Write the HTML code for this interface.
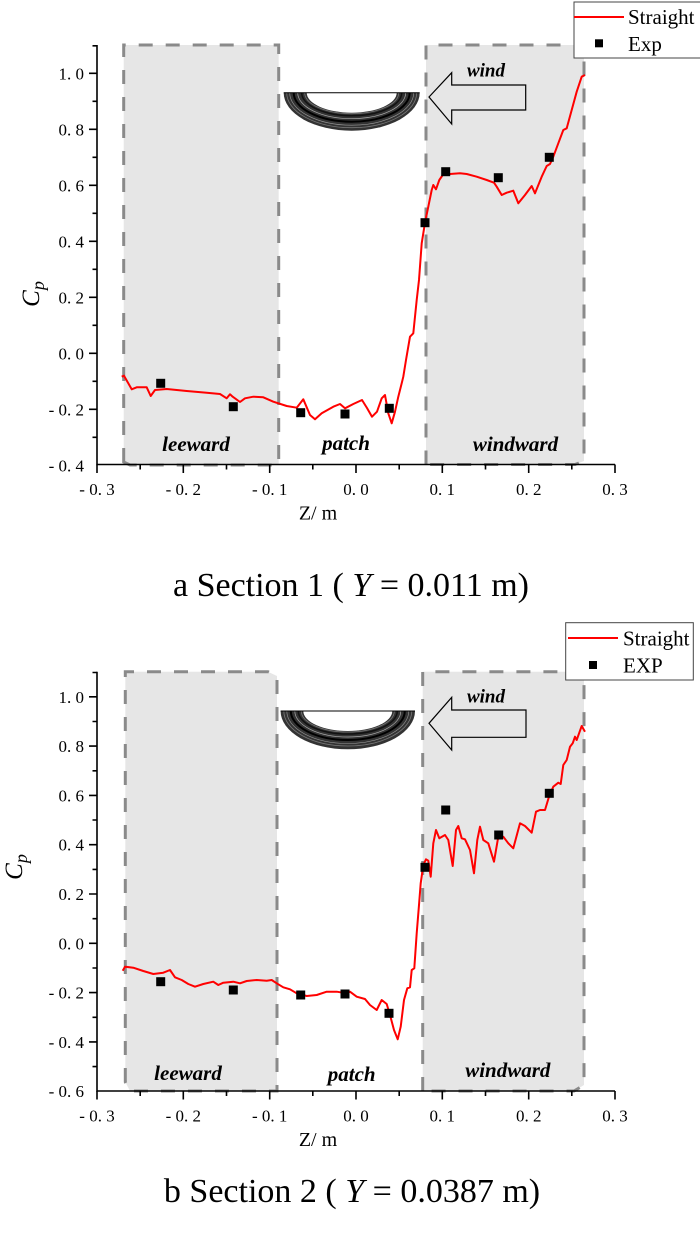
<!DOCTYPE html>
<html><head><meta charset="utf-8"><style>
html,body{margin:0;padding:0;background:#fff;}
svg{display:block;}
text{font-family:"Liberation Serif","Times New Roman",serif;fill:#000;}
</style></head><body>
<svg width="700" height="1233" viewBox="0 0 700 1233" xmlns="http://www.w3.org/2000/svg">
<rect x="0" y="0" width="700" height="1233" fill="#fff"/>

<!-- ================= CHART 1 ================= -->
<g fill="#e6e6e6" stroke="#8a8a8a" stroke-width="3" stroke-dasharray="14 13">
  <path d="M123.7,462 L123.7,45 L278.7,45 L278.7,465 L130,465 Z"/>
  <path d="M426,464.5 L426,45 L584,45 L584,461 L575,464.5 Z"/>
</g>

<!-- tire 1 -->
<g transform="translate(351.7,92.7)">
  <path d="M-68,0 A68,38 0 0,0 68,0 Z" fill="#333"/>
  <path d="M-65,0 A65,35 0 0,0 65,0" fill="none" stroke="#777" stroke-width="0.8"/>
  <path d="M-62,0 A62,32.5 0 0,0 62,0" fill="none" stroke="#999" stroke-width="0.6"/>
  <path d="M-58,0 A58,29 0 0,0 58,0" fill="none" stroke="#000" stroke-width="2"/>
  <path d="M-54,0 A54,26 0 0,0 54,0" fill="none" stroke="#aaa" stroke-width="0.7"/>
  <path d="M-50,0 A50,23 0 0,0 50,0" fill="none" stroke="#111" stroke-width="1.5"/>
  <path d="M-47,0 A47,21 0 0,0 47,0" fill="none" stroke="#777" stroke-width="0.8"/>
  <path d="M-45,0 A45,20 0 0,0 45,0 Z" fill="#fff"/>
  <line x1="-68" y1="0" x2="68" y2="0" stroke="#000" stroke-width="1"/>
</g>

<!-- wind arrow 1 -->
<path d="M429,97 L451.7,72.7 L451.7,85 L525.7,85 L525.7,110 L451.7,110 L451.7,124 Z" fill="none" stroke="#000" stroke-width="1.2"/>
<text x="486" y="76.7" font-size="19" font-weight="bold" font-style="italic" text-anchor="middle">wind</text>

<text x="196" y="451" font-size="21" font-weight="bold" font-style="italic" text-anchor="middle">leeward</text>
<text x="346" y="450" font-size="21" font-weight="bold" font-style="italic" text-anchor="middle">patch</text>
<text x="515.5" y="451" font-size="21" font-weight="bold" font-style="italic" text-anchor="middle">windward</text>

<!-- curve 1 -->
<polyline fill="none" stroke="#ff0000" stroke-width="2" stroke-linejoin="round" points="121.7,376.7 124,375.7 131.7,389.3 136.7,387.3 146.7,387.3 150.7,396 155,390 166.7,389 186.7,391 206.7,392.7 220,394 226.7,398.3 230,394.3 232.7,396.7 240,402 245,398.3 253.3,396.7 263.3,397.3 273.3,401.7 286.7,406 296.7,407.7 303.3,399.3 310,415 315,419.3 321.7,413.3 333.3,406.7 340,404 345,408.3 353.3,404 362,400 367,408 372,416.7 377,411.7 381.7,398.3 385,395 388.3,413.3 391.7,423.3 395,411.7 398.3,396.7 401.7,383.3 403.3,376.7 406,360 410,336.7 413.3,333.3 416.7,300 419,280 421.7,243.3 425,222.7 428.3,206.7 431.7,190 433.3,185 436,189.3 439.3,180 445,171.7 450,174 460,173.3 466.7,174 476.7,176.7 486.7,180 494,182.7 496.7,186.7 501.7,195 506.7,192.7 513.3,190.7 518.3,203.3 525,195 531.7,186 535,193.3 541.7,176.7 546.7,166 550,164 553.3,156.7 558.3,143.3 563.3,130 566.7,128.3 571.7,110 576.7,91.7 581.7,76.7 585,75"/>

<!-- markers 1 -->
<g fill="#000">
  <rect x="156.2" y="378.8" width="9" height="9"/>
  <rect x="228.8" y="402.2" width="9" height="9"/>
  <rect x="296.2" y="408.2" width="9" height="9"/>
  <rect x="340.5" y="409.5" width="9" height="9"/>
  <rect x="384.8" y="403.8" width="9" height="9"/>
  <rect x="420.5" y="218.2" width="9" height="9"/>
  <rect x="441.2" y="167.2" width="9" height="9"/>
  <rect x="493.8" y="173.2" width="9" height="9"/>
  <rect x="544.8" y="152.8" width="9" height="9"/>
</g>

<!-- axes 1 -->
<g stroke="#000" stroke-width="1.6" fill="none">
  <path d="M97,45 L97,465.3 M96.2,464.5 L615,464.5"/>
  <path d="M97,73.3h-8 M97,129.3h-8 M97,185.3h-8 M97,241.3h-8 M97,297.3h-8 M97,353.3h-8 M97,409.3h-8"/>
  <path d="M97,45.8h-4.5 M97,101.3h-4.5 M97,157.3h-4.5 M97,213.3h-4.5 M97,269.3h-4.5 M97,325.3h-4.5 M97,381.3h-4.5 M97,437.3h-4.5"/>
  <path d="M97,464.5v8.5 M183.3,464.5v8.5 M269.7,464.5v8.5 M356,464.5v8.5 M442.3,464.5v8.5 M528.7,464.5v8.5 M615,464.5v8.5"/>
  <path d="M140.2,464.5v5 M226.5,464.5v5 M312.8,464.5v5 M399.2,464.5v5 M485.5,464.5v5 M571.8,464.5v5"/>
</g>
<g font-size="17" text-anchor="end">
  <text x="84" y="79.3">1. 0</text>
  <text x="84" y="135.3">0. 8</text>
  <text x="84" y="191.3">0. 6</text>
  <text x="84" y="247.3">0. 4</text>
  <text x="84" y="303.3">0. 2</text>
  <text x="84" y="359.3">0. 0</text>
  <text x="84" y="415.3">- 0. 2</text>
  <text x="84" y="471.3">- 0. 4</text>
</g>
<g font-size="17" text-anchor="middle">
  <text x="97" y="495">- 0. 3</text>
  <text x="183.3" y="495">- 0. 2</text>
  <text x="269.7" y="495">- 0. 1</text>
  <text x="356" y="495">0. 0</text>
  <text x="442.3" y="495">0. 1</text>
  <text x="528.7" y="495">0. 2</text>
  <text x="615" y="495">0. 3</text>
</g>
<text x="318" y="519.5" font-size="20" text-anchor="middle">Z/ m</text>
<text transform="translate(39,294) rotate(-90)" font-size="25" font-style="italic" text-anchor="middle">C<tspan font-size="18" dy="5">p</tspan></text>

<!-- legend 1 -->
<rect x="574" y="2" width="130" height="56" fill="#fff" stroke="#444" stroke-width="1"/>
<line x1="574" y1="17" x2="624" y2="17" stroke="#ff0000" stroke-width="2"/>
<text x="628" y="24" font-size="21">Straight</text>
<rect x="595" y="39.3" width="8" height="8" fill="#000"/>
<text x="628" y="51" font-size="21">Exp</text>

<text x="351" y="596" font-size="34" text-anchor="middle">a Section 1 ( <tspan font-style="italic">Y</tspan> = 0.011 m)</text>

<!-- ================= CHART 2 ================= -->
<g fill="#e6e6e6" stroke="#8a8a8a" stroke-width="3" stroke-dasharray="14 13">
  <path d="M125.3,1082 L125.3,671.7 L268,671.7 L277,676 L277,1091 L130,1091 Z"/>
  <path d="M422.7,1091 L422.7,671.7 L584,671.7 L584,1085 L574,1091 Z"/>
</g>

<!-- tire 2 -->
<g transform="translate(347.8,711)">
  <path d="M-67.2,0 A67.2,38.3 0 0,0 67.2,0 Z" fill="#333"/>
  <path d="M-64,0 A64,35 0 0,0 64,0" fill="none" stroke="#777" stroke-width="0.8"/>
  <path d="M-61,0 A61,32.5 0 0,0 61,0" fill="none" stroke="#999" stroke-width="0.6"/>
  <path d="M-57,0 A57,29 0 0,0 57,0" fill="none" stroke="#000" stroke-width="2"/>
  <path d="M-53,0 A53,26 0 0,0 53,0" fill="none" stroke="#aaa" stroke-width="0.7"/>
  <path d="M-49.5,0 A49.5,23 0 0,0 49.5,0" fill="none" stroke="#111" stroke-width="1.5"/>
  <path d="M-46.5,0 A46.5,21 0 0,0 46.5,0" fill="none" stroke="#777" stroke-width="0.8"/>
  <path d="M-44.5,0 A44.5,20 0 0,0 44.5,0 Z" fill="#fff"/>
  <line x1="-67.2" y1="0" x2="67.2" y2="0" stroke="#000" stroke-width="1"/>
</g>

<!-- wind arrow 2 -->
<path d="M429,723.3 L451.7,697.3 L451.7,710 L526,710 L526,737.3 L451.7,737.3 L451.7,750 Z" fill="none" stroke="#000" stroke-width="1.2"/>
<text x="486" y="702.7" font-size="19" font-weight="bold" font-style="italic" text-anchor="middle">wind</text>

<text x="188" y="1080" font-size="21" font-weight="bold" font-style="italic" text-anchor="middle">leeward</text>
<text x="351.7" y="1081" font-size="21" font-weight="bold" font-style="italic" text-anchor="middle">patch</text>
<text x="507.8" y="1077" font-size="21" font-weight="bold" font-style="italic" text-anchor="middle">windward</text>

<!-- curve 2 -->
<polyline fill="none" stroke="#ff0000" stroke-width="2" stroke-linejoin="round" points="122.7,970.7 125,966.7 133.3,967.7 143.3,971 153.3,974 163.3,972.7 170,970 175,977.3 181.7,980 188.3,984 195,986.7 203.3,984 213.3,981.7 218.3,985 223.3,982.7 233.3,981.7 240,983.3 246.7,981 256.7,980 266.7,980.7 271.7,980 276.7,983.3 283.3,987.3 290,989.3 296.7,993.3 306.7,996 316.7,995 326.7,991.7 336.7,991.7 346.7,993.3 350,991.7 356.7,996.7 365,999 370,1005 376.7,1010 381.7,1000 386.7,1004 390,1015 394,1030 397.7,1039.3 400.7,1026.7 404,1000 407.3,988.3 410,987.3 411.7,970 414.3,968.3 416.7,933.3 419,905 420.7,883.3 423.3,865 426,859.3 428.3,860.7 430.7,876.7 433.3,843.3 436,830 439.3,838.3 445,835 448.3,840 452.7,866 456,830 458.3,826 461.7,838.3 465,839.3 470,850 474,873.3 477.3,840 480,826.7 483.3,840 488.3,843.3 494,861.7 498.3,836.7 503.3,836.7 508.3,843.3 513.3,848.3 520,823.3 525,826 531.7,832.7 536,811.7 540,810 545,810 549,796.7 553.3,786.7 558.3,782.7 560.7,784 563.3,765 566.7,760 570,746.7 572.7,743.3 575,736.7 576.7,740 579.3,732.7 581.7,726 585,731.7"/>

<!-- markers 2 -->
<g fill="#000">
  <rect x="156.2" y="977.2" width="9" height="9"/>
  <rect x="228.8" y="985.5" width="9" height="9"/>
  <rect x="296.2" y="990.5" width="9" height="9"/>
  <rect x="340.5" y="989.5" width="9" height="9"/>
  <rect x="384.5" y="1008.8" width="9" height="9"/>
  <rect x="420.5" y="862.8" width="9" height="9"/>
  <rect x="441.2" y="805.5" width="9" height="9"/>
  <rect x="494.2" y="830.5" width="9" height="9"/>
  <rect x="544.8" y="788.8" width="9" height="9"/>
</g>

<!-- axes 2 -->
<g stroke="#000" stroke-width="1.6" fill="none">
  <path d="M97,671.7 L97,1091.8 M96.2,1091 L615,1091"/>
  <path d="M97,696.8h-8 M97,746.1h-8 M97,795.4h-8 M97,844.7h-8 M97,894h-8 M97,943.3h-8 M97,992.6h-8 M97,1041.9h-8"/>
  <path d="M97,672.5h-4.5 M97,721.5h-4.5 M97,770.8h-4.5 M97,820h-4.5 M97,869.4h-4.5 M97,918.7h-4.5 M97,968h-4.5 M97,1017.3h-4.5 M97,1066.6h-4.5"/>
  <path d="M97,1091v8.5 M183.3,1091v8.5 M269.7,1091v8.5 M356,1091v8.5 M442.3,1091v8.5 M528.7,1091v8.5 M615,1091v8.5"/>
  <path d="M140.2,1091v5 M226.5,1091v5 M312.8,1091v5 M399.2,1091v5 M485.5,1091v5 M571.8,1091v5"/>
</g>
<g font-size="17" text-anchor="end">
  <text x="84" y="702.8">1. 0</text>
  <text x="84" y="752.1">0. 8</text>
  <text x="84" y="801.4">0. 6</text>
  <text x="84" y="850.7">0. 4</text>
  <text x="84" y="900">0. 2</text>
  <text x="84" y="949.3">0. 0</text>
  <text x="84" y="998.6">- 0. 2</text>
  <text x="84" y="1047.9">- 0. 4</text>
  <text x="84" y="1097.2">- 0. 6</text>
</g>
<g font-size="17" text-anchor="middle">
  <text x="97" y="1121.5">- 0. 3</text>
  <text x="183.3" y="1121.5">- 0. 2</text>
  <text x="269.7" y="1121.5">- 0. 1</text>
  <text x="356" y="1121.5">0. 0</text>
  <text x="442.3" y="1121.5">0. 1</text>
  <text x="528.7" y="1121.5">0. 2</text>
  <text x="615" y="1121.5">0. 3</text>
</g>
<text x="318" y="1146" font-size="20" text-anchor="middle">Z/ m</text>
<text transform="translate(22,867) rotate(-90)" font-size="25" font-style="italic" text-anchor="middle">C<tspan font-size="18" dy="5">p</tspan></text>

<!-- legend 2 -->
<rect x="565.7" y="622.7" width="127.6" height="57.3" fill="#fff" stroke="#444" stroke-width="1"/>
<line x1="568" y1="638" x2="618" y2="638" stroke="#ff0000" stroke-width="2"/>
<text x="623" y="645.5" font-size="21">Straight</text>
<rect x="589" y="661" width="8" height="8" fill="#000"/>
<text x="623" y="672.3" font-size="21">EXP</text>

<text x="352" y="1202" font-size="34" text-anchor="middle">b Section 2 ( <tspan font-style="italic">Y</tspan> = 0.0387 m)</text>
</svg>
</body></html>
